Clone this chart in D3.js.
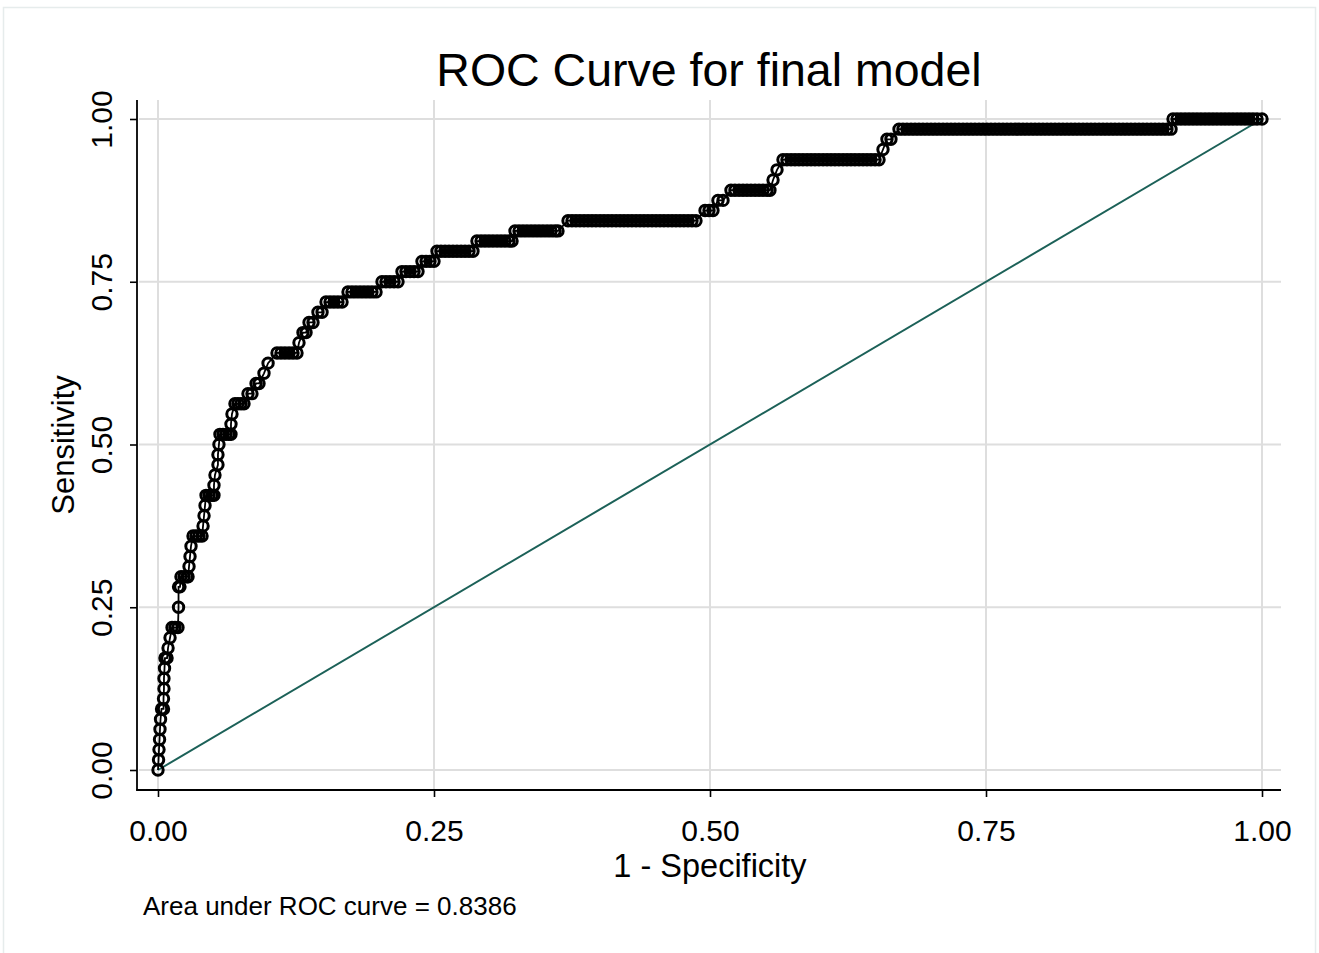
<!DOCTYPE html>
<html>
<head>
<meta charset="utf-8">
<script src="https://cdn.jsdelivr.net/npm/d3@7"></script>
<style>
  html, body { margin: 0; padding: 0; background: #ffffff; }
  svg { display: block; }
  text { font-family: "Liberation Sans", Arial, sans-serif; fill: #000; }
</style>
</head>
<body>
<svg id="chart" width="1319" height="953"></svg>
<script>
// ---------------- DATA ----------------
const titleText = "ROC Curve for final model";
const xAxisTitle = "1 - Specificity";
const yAxisTitle = "Sensitivity";
const aucNote = "Area under ROC curve = 0.8386";
const tickValues = [0, 0.25, 0.5, 0.75, 1];
const tickLabels = ["0.00", "0.25", "0.50", "0.75", "1.00"];

// sensitivity levels (k / 64 positives) that carry points
const sensitivityLevels = [
  0, .0156, .0313, .0469, .0625, .0781, .0938, .1094, .125, .1406,
  .1563, .1719, .1875, .2031, .2188, .25, .2813, .2969, .3125, .3281,
  .3438, .3594, .375, .3906, .4063, .4219, .4375, .4531, .4688, .4844,
  .5, .5156, .5313, .5469, .5625, .5781, .5938, .6094, .625, .6406,
  .6563, .6719, .6875, .7031, .7188, .7344, .75, .7656, .7813, .7969,
  .8125, .8281, .8438, .8594, .875, .8906, .9063, .9219, .9375, .9531,
  .9688, .9844, 1
];
// 1 - specificity values of the points at each sensitivity level
const fprAtLevel = [
  [0], [.0005], [.0009], [.0014], [.0018], [.0023], [.0032, .0050], [.0050], [.0054], [.0054],
  [.0059], [.0063, .0082], [.0091], [.0109], [.0127, .0154, .0181], [.0186], [.0186, .0199], [.0208, .0236, .0263, .0272], [.0281], [.0290],
  [.0299], [.0317, .0344, .0371, .0399], [.0408], [.0417], [.0426], [.0435, .0462, .0489, .0507], [.0507], [.0516], [.0543], [.0543],
  [.0552], [.0561, .0589, .0616, .0643, .0661], [.0661], [.0670], [.0697, .0724, .0752, .0779], [.0815, .0851], [.0888, .0915], [.0960], [.0997],
  [.1078, .1114, .1150, .1187, .1223, .1259],
  [.1277], [.1313, .1341], [.1368, .1404], [.1449, .1486],
  [.1522, .1558, .1594, .1630, .1667],
  [.1721, .1757, .1793, .1830, .1866, .1902, .1938, .1975],
  [.2029, .2065, .2101, .2138, .2174],
  [.2210, .2246, .2283, .2319, .2355],
  [.2391, .2428, .2464, .2500],
  [.2527, .2563, .2600, .2636, .2672, .2708, .2745, .2781, .2817, .2853],
  [.2889, .2926, .2962, .2998, .3034, .3071, .3107, .3143, .3179, .3207],
  [.3234, .3270, .3306, .3342, .3379, .3415, .3451, .3487, .3524, .3560, .3596, .3623],
  [.3714, .3750, .3786, .3822, .3859, .3895, .3931, .3967, .4004, .4040, .4076, .4112, .4149, .4185, .4221, .4257,
   .4293, .4330, .4366, .4402, .4438, .4475, .4511, .4547, .4583, .4620, .4656, .4692, .4728, .4764, .4801, .4837, .4873],
  [.4955, .4991, .5027],
  [.5072, .5118],
  [.5190, .5226, .5263, .5299, .5335, .5371, .5408, .5444, .5480, .5516, .5543],
  [.5571],
  [.5607],
  [.5661, .5697, .5734, .5770, .5806, .5842, .5879, .5915, .5951, .5987, .6024, .6060, .6096,
   .6132, .6168, .6205, .6241, .6277, .6313, .6350, .6386, .6422, .6458, .6495, .6531],
  [.6567],
  [.6603, .6639],
  [.6712, .6748, .6784, .6821, .6857, .6893, .6929, .6966, .7002, .7038, .7074, .7111, .7147, .7183, .7219, .7255,
   .7292, .7328, .7364, .7400, .7437, .7473, .7509, .7545, .7582, .7618, .7654, .7690, .7726, .7763, .7799, .7835,
   .7871, .7908, .7944, .7980, .8016, .8053, .8089, .8125, .8161, .8197, .8234, .8270, .8306, .8342, .8379, .8415,
   .8451, .8487, .8524, .8560, .8596, .8632, .8668, .8705, .8741, .8777, .8813, .8850, .8886, .8922, .8958, .8995,
   .9031, .9067, .9103, .9139, .9176],
  [.9194, .9230, .9266, .9303, .9339, .9375, .9411, .9447, .9484, .9520, .9556, .9592, .9629, .9665, .9701, .9737,
   .9774, .9810, .9846, .9882, .9918, .9955, 1]
];
const referenceLine = [[0, 0], [1, 1]];

// ---------------- LAYOUT ----------------
const svg = d3.select("#chart");
const x = d3.scaleLinear().domain([0, 1]).range([158, 1262]);
const y = d3.scaleLinear().domain([0, 1]).range([770, 119]);
const plot = { left: 137, right: 1281, top: 100, bottom: 790 };

const points = [];
sensitivityLevels.forEach((s, i) => fprAtLevel[i].forEach(f => points.push([f, s])));

// outer frame
svg.append("rect").attr("x", 3.5).attr("y", 7.5).attr("width", 1312).attr("height", 950)
  .attr("fill", "none").attr("stroke", "#e6ecec").attr("stroke-width", 1.5);

// grid
const grid = svg.append("g");
grid.selectAll("line.h").data(tickValues).join("line")
  .attr("x1", plot.left + 2).attr("x2", plot.right)
  .attr("y1", d => y(d)).attr("y2", d => y(d))
  .attr("stroke", "#dedede").attr("stroke-width", 2);
grid.selectAll("line.v").data(tickValues).join("line")
  .attr("y1", plot.top).attr("y2", plot.bottom - 1)
  .attr("x1", d => x(d)).attr("x2", d => x(d))
  .attr("stroke", "#dedede").attr("stroke-width", 2);

// axes
const yAxis = d3.axisLeft(y).tickValues(tickValues).tickSize(7).tickFormat((d, i) => tickLabels[i]);
const xAxis = d3.axisBottom(x).tickValues(tickValues).tickSize(7).tickFormat((d, i) => tickLabels[i]);

const gy = svg.append("g").attr("transform", `translate(${plot.left},0)`).call(yAxis);
gy.select(".domain").remove();
gy.selectAll(".tick line").attr("stroke", "#000").attr("stroke-width", 1.6);
gy.selectAll(".tick text")
  .attr("font-size", 30).attr("font-family", "Liberation Sans, Arial, sans-serif").attr("fill", "#000")
  .attr("x", null).attr("dy", null)
  .attr("text-anchor", "middle")
  .attr("transform", "translate(-25,0) rotate(-90)");

const gx = svg.append("g").attr("transform", `translate(0,${plot.bottom})`).call(xAxis);
gx.select(".domain").remove();
gx.selectAll(".tick line").attr("stroke", "#000").attr("stroke-width", 1.6);
gx.selectAll(".tick text")
  .attr("font-size", 30).attr("font-family", "Liberation Sans, Arial, sans-serif").attr("fill", "#000")
  .attr("y", 51).attr("dy", null);

svg.append("line").attr("x1", plot.left).attr("x2", plot.left).attr("y1", plot.top).attr("y2", plot.bottom + 0.8)
  .attr("stroke", "#000").attr("stroke-width", 1.8);
svg.append("line").attr("x1", plot.left - 0.8).attr("x2", plot.right).attr("y1", plot.bottom).attr("y2", plot.bottom)
  .attr("stroke", "#000").attr("stroke-width", 1.8);

// reference diagonal
svg.append("path").datum(referenceLine)
  .attr("d", d3.line().x(d => x(d[0])).y(d => y(d[1])))
  .attr("fill", "none").attr("stroke", "#1c6158").attr("stroke-width", 2);

// ROC curve line
svg.append("path").datum(points)
  .attr("d", d3.line().x(d => x(d[0])).y(d => y(d[1])))
  .attr("fill", "none").attr("stroke", "#000").attr("stroke-width", 1.8);

// markers
svg.append("g").selectAll("circle").data(points).join("circle")
  .attr("cx", d => x(d[0])).attr("cy", d => y(d[1])).attr("r", 5.2)
  .attr("fill", "none").attr("stroke", "#000").attr("stroke-width", 3);

// titles
svg.append("text").attr("x", 709).attr("y", 86).attr("text-anchor", "middle")
  .attr("font-size", 46.5).text(titleText);
svg.append("text").attr("x", 710).attr("y", 877).attr("text-anchor", "middle")
  .attr("font-size", 32.5).text(xAxisTitle);
svg.append("text").attr("transform", "translate(74,445) rotate(-90)").attr("text-anchor", "middle")
  .attr("font-size", 31).text(yAxisTitle);
svg.append("text").attr("x", 143).attr("y", 915).attr("font-size", 26).text(aucNote);
</script>
</body>
</html>
